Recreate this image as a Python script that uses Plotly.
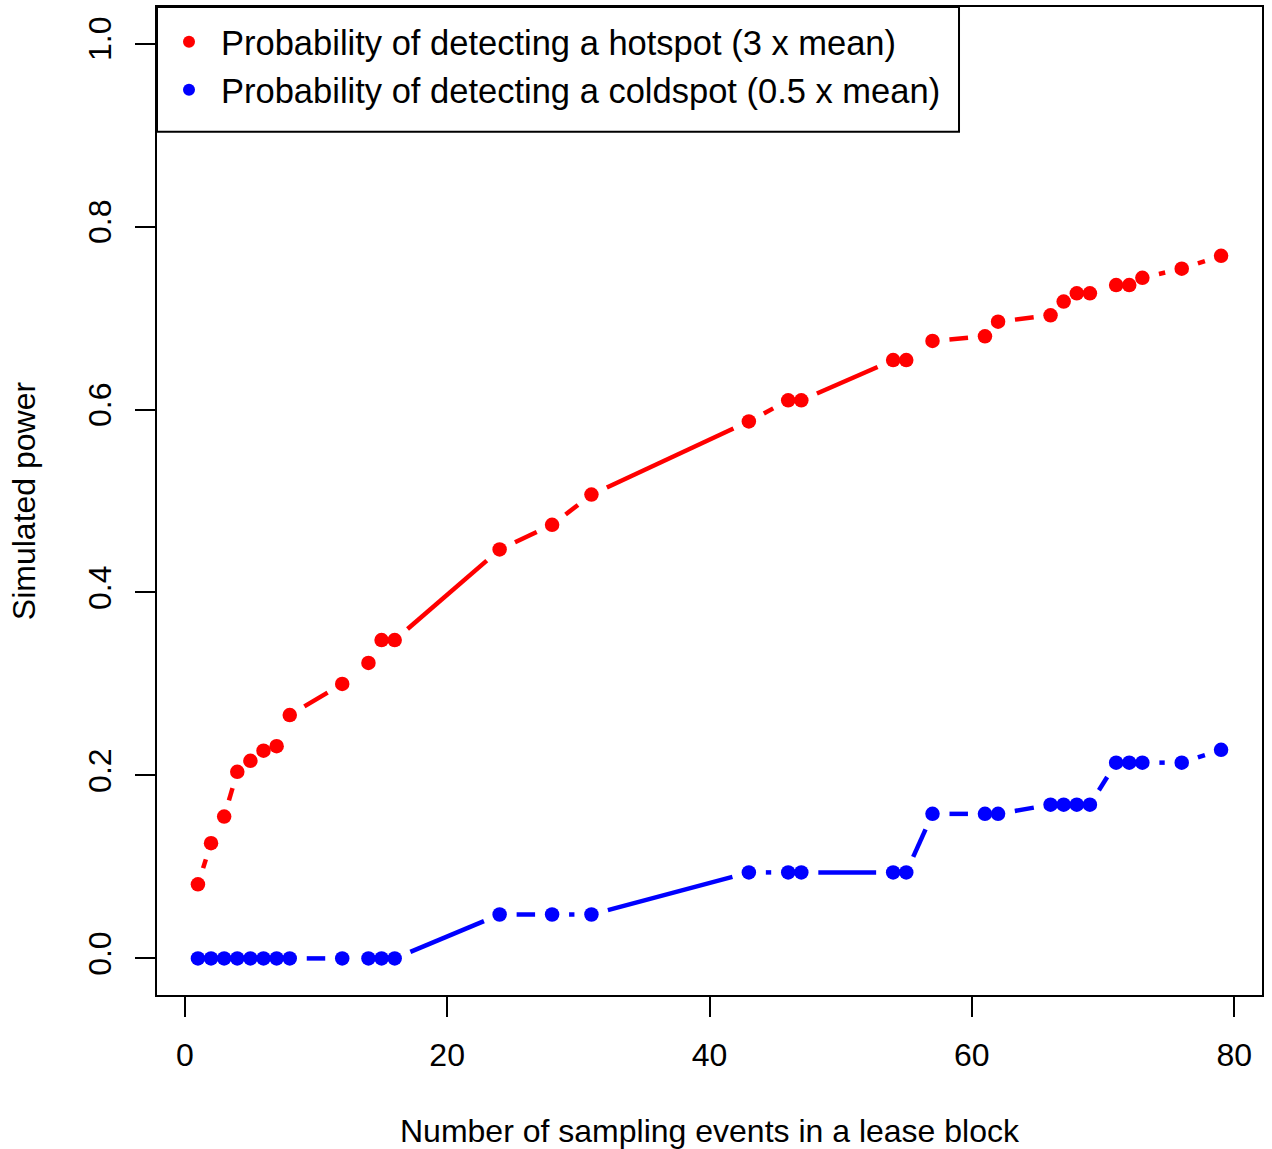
import math
import plotly.graph_objects as go

# sampling events per lease block
events = [1, 2, 3, 4, 5, 6, 7, 8, 12, 14, 15, 16, 24, 28, 31, 43, 46, 47, 54, 55,
          57, 61, 62, 66, 67, 68, 69, 71, 72, 73, 76, 79]

hotspot_power = [0.081, 0.126, 0.155, 0.204, 0.216, 0.227, 0.232, 0.266, 0.300, 0.323,
                 0.348, 0.348, 0.447, 0.474, 0.507, 0.587, 0.610, 0.610, 0.654, 0.654,
                 0.675, 0.680, 0.696, 0.703, 0.718, 0.727, 0.727, 0.736, 0.736, 0.744,
                 0.754, 0.768]

coldspot_power = [0.0, 0.0, 0.0, 0.0, 0.0, 0.0, 0.0, 0.0, 0.0, 0.0,
                  0.0, 0.0, 0.048, 0.048, 0.048, 0.094, 0.094, 0.094, 0.094, 0.094,
                  0.158, 0.158, 0.158, 0.168, 0.168, 0.168, 0.168, 0.214, 0.214, 0.214,
                  0.214, 0.228]

x_ticks = [0, 20, 40, 60, 80]
y_ticks = [0.0, 0.2, 0.4, 0.6, 0.8, 1.0]
y_tick_labels = ["0.0", "0.2", "0.4", "0.6", "0.8", "1.0"]

FONT = "Liberation Sans, Arial, sans-serif"
W, H = 1272, 1149
MARGIN = dict(l=157, r=10, t=5, b=154)
X_RANGE = [-2.12, 82.12]
Y_RANGE = [-0.04, 1.04]
GAP = 17  # px left open around each point, like R's type="b"


def gapped_segments(xs, ys):
    # shorten each segment near its endpoints so points sit in gaps
    sx = (W - MARGIN["l"] - MARGIN["r"]) / (X_RANGE[1] - X_RANGE[0])
    sy = (H - MARGIN["t"] - MARGIN["b"]) / (Y_RANGE[1] - Y_RANGE[0])
    gx, gy = [], []
    for i in range(len(xs) - 1):
        dx, dy = xs[i + 1] - xs[i], ys[i + 1] - ys[i]
        length = math.hypot(dx * sx, dy * sy)
        if length <= 2 * GAP:
            continue
        f = GAP / length
        gx += [xs[i] + dx * f, xs[i + 1] - dx * f, None]
        gy += [ys[i] + dy * f, ys[i + 1] - dy * f, None]
    return gx, gy


fig = go.Figure()

series = [
    ("Probability of detecting a hotspot (3 x mean)", hotspot_power, "#ff0000"),
    ("Probability of detecting a coldspot (0.5 x mean)", coldspot_power, "#0000ff"),
]

for name, vals, color in series:
    lx, ly = gapped_segments(events, vals)
    fig.add_trace(go.Scatter(
        x=lx, y=ly, mode="lines", line=dict(color=color, width=4.5),
        showlegend=False, hoverinfo="skip",
    ))

for name, vals, color in series:
    fig.add_trace(go.Scatter(
        x=events, y=vals, mode="markers", name=name,
        marker=dict(color=color, size=14.5, line=dict(width=0)),
    ))

axis_common = dict(
    showgrid=False, zeroline=False, showline=True, mirror=True,
    linecolor="black", linewidth=2, ticks="outside", ticklen=20,
    tickwidth=1.5, tickcolor="black", ticklabelstandoff=11,
    tickfont=dict(family=FONT, size=32, color="black"),
)

# legend frame, R style (drawn as a shape so it can be taller than the items)
fig.add_shape(type="rect", xref="paper", yref="paper",
              x0=0, x1=0.7258, y0=0.8737, y1=1,
              line=dict(color="black", width=2), layer="above")

fig.update_layout(
    width=W, height=H,
    margin=MARGIN,
    paper_bgcolor="white", plot_bgcolor="white",
    font=dict(family=FONT, size=32, color="black"),
    xaxis=dict(
        **axis_common, range=X_RANGE, tickvals=x_ticks,
        title=dict(text="Number of sampling events in a lease block",
                   font=dict(family=FONT, size=32), standoff=48),
    ),
    yaxis=dict(
        **axis_common, range=Y_RANGE, tickvals=y_ticks, ticktext=y_tick_labels,
        tickangle=-90,
        title=dict(text="Simulated power", font=dict(family=FONT, size=32), standoff=37),
    ),
    legend=dict(
        x=0, y=0.994, xanchor="left", yanchor="top",
        borderwidth=0, bgcolor="rgba(0,0,0,0)",
        font=dict(family=FONT, size=34.5),
        itemsizing="constant", itemwidth=54,
    ),
)

fig.write_html("out.html", config={"displayModeBar": False},
               post_script="document.body.style.margin='0';")
